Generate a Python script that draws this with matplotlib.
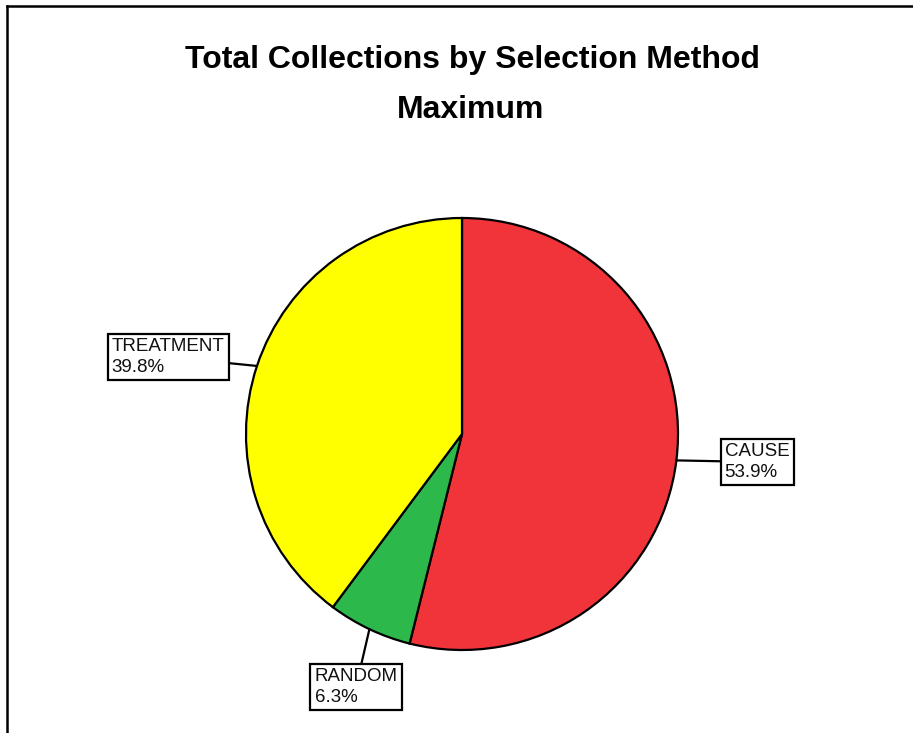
import matplotlib
matplotlib.use("Agg")
import matplotlib.pyplot as plt
from matplotlib.lines import Line2D
import numpy as np

plt.rcParams['font.family'] = ['Liberation Sans', 'DejaVu Sans']

# Data
categories = ["CAUSE", "RANDOM", "TREATMENT"]
percents = [53.9, 6.3, 39.8]
colors = ["#F0343A", "#2DB84B", "#FFFF00"]
title_lines = ["Total Collections by Selection Method", "Maximum"]

W, H = 913, 733
fig = plt.figure(figsize=(W / 100, H / 100), dpi=100)
ax = fig.add_axes([0, 0, 1, 1])

center = (462, H - 434)
radius = 216

wedges, _ = ax.pie(percents, colors=colors, startangle=90, counterclock=False,
                   center=center, radius=radius, frame=True,
                   wedgeprops=dict(edgecolor='black', linewidth=1.6))
ax.set_xlim(0, W)
ax.set_ylim(0, H)
ax.set_aspect('equal')
ax.axis('off')

# label box positions (text centre, in pixel coords from top-left)
label_pos = {"CAUSE": (757, 462), "RANDOM": (356, 687), "TREATMENT": (168, 357)}

for w, cat, pct in zip(wedges, categories, percents):
    mid = np.deg2rad((w.theta1 + w.theta2) / 2)
    px = center[0] + radius * np.cos(mid)
    py = center[1] + radius * np.sin(mid)
    tx, ty = label_pos[cat]
    ax.annotate(f"{cat}\n{pct:.1f}%", xy=(px, py), xytext=(tx, H - ty),
                ha='center', va='center', multialignment='left',
                fontsize=13.5, linespacing=1.3, color='#111111',
                bbox=dict(boxstyle='square,pad=0.22', fc='white', ec='black', lw=1.6),
                arrowprops=dict(arrowstyle='-', color='black', lw=1.6,
                                shrinkA=0, shrinkB=0))

fig.text(472 / W, 1 - 60 / H, title_lines[0], ha='center', va='center',
         fontsize=23, fontweight='bold')
fig.text(471 / W, 1 - 110 / H, title_lines[1], ha='center', va='center',
         fontsize=23, fontweight='bold')

# frame lines along the top and left
fig.add_artist(Line2D([7 / W, 1], [1 - 6 / H, 1 - 6 / H], color='black', lw=1.8,
                      transform=fig.transFigure))
fig.add_artist(Line2D([7 / W, 7 / W], [0, 1 - 6 / H], color='black', lw=1.8,
                      transform=fig.transFigure))

fig.savefig("out.png", dpi=100)
